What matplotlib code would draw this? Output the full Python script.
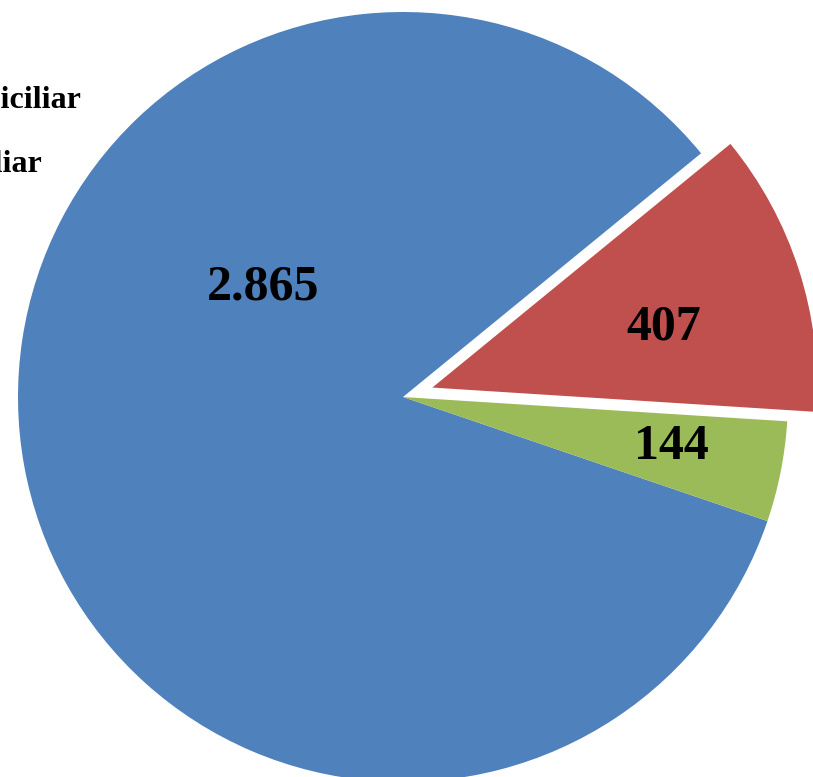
import numpy as np
import matplotlib.pyplot as plt

# Casos por local de ocorrência
categories = ['Intradomiciliar', 'Peridomiciliar', 'Extradomiciliar']
values = [2865, 407, 144]
value_labels = ['2.865', '407', '144']
colors = ['#4F81BD', '#C0504D', '#9BBB59']
explode = [0, 0.08, 0]

W, H = 813, 777
cx, cy, R = 403, 397, 385  # pie centre / radius in pixels

fig = plt.figure(figsize=(W / 100, H / 100), dpi=100)
ax = fig.add_axes([0, 0, 1, 1])

wedges, _ = ax.pie(values, colors=colors, explode=explode, startangle=-18.8,
                   counterclock=False, radius=1.0,
                   wedgeprops=dict(linewidth=0))

ax.set_xlim(-cx / R, (W - cx) / R)
ax.set_ylim(-(H - cy) / R, cy / R)
ax.set_aspect('auto')
ax.axis('off')

font = dict(family='Liberation Serif', weight='bold', color='black')

# value labels: (distance, angle) per slice, blue label sits up-left
placement = [(0.46, 142.0), (0.62, 14.5), (0.71, -10.5)]
for w, txt, ex, (d, ang) in zip(wedges, value_labels, explode, placement):
    mid = 0.5 * (w.theta1 + w.theta2)
    ox = ex * np.cos(np.radians(mid))
    oy = ex * np.sin(np.radians(mid))
    x = ox + d * np.cos(np.radians(ang))
    y = oy + d * np.sin(np.radians(ang))
    ax.text(x, y, txt, ha='center', va='center', fontsize=36, **font)

# legend text, partly beyond the left edge
fig.text(82 / W, 1 - 101 / H, categories[0], ha='right', va='center',
         fontsize=23, **font)
fig.text(42 / W, 1 - 164 / H, categories[1], ha='right', va='center',
         fontsize=23, **font)

fig.savefig('out.png', dpi=100)
